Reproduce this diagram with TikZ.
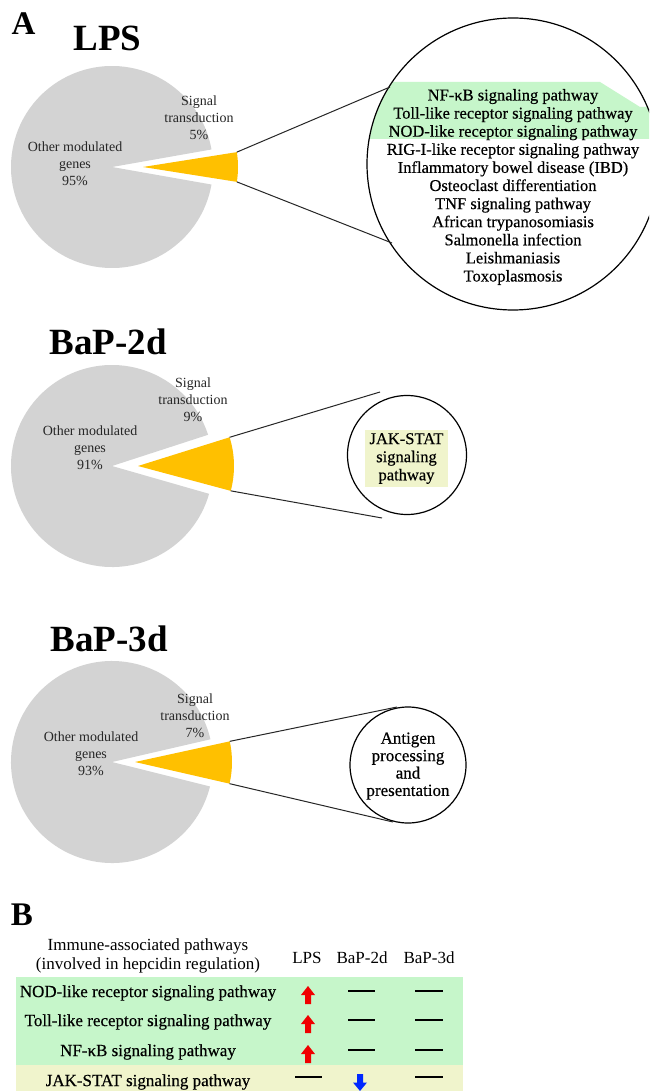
\documentclass[tikz,border=0pt]{standalone}
\usepackage{fontspec}
\setmainfont{Liberation Serif}
\newfontfamily\heavyserif[FakeBold=0.45]{Liberation Serif}
\usetikzlibrary{calc}
\definecolor{pieGrey}{RGB}{211,211,211}
\definecolor{pieOrange}{RGB}{255,192,0}
\definecolor{bandGreen}{RGB}{198,246,202}
\definecolor{bandYellow}{RGB}{240,244,204}
\definecolor{arrRed}{RGB}{240,0,0}
\definecolor{arrBlue}{RGB}{0,40,255}
\begin{document}
\begin{tikzpicture}[x=1pt,y=-1pt,
  panel/.style={font=\fontsize{33}{36}\selectfont\bfseries, inner sep=0},
  ptitle/.style={font=\fontsize{37}{40}\selectfont\bfseries, inner sep=0},
  pielabel/.style={font=\fontsize{14}{17}\selectfont, text=black!85, align=center, inner sep=0},
  listtext/.style={font=\heavyserif\fontsize{16.5}{18.1}\selectfont, align=center, inner sep=0},
  tabtext/.style={font=\heavyserif\fontsize{17}{19.5}\selectfont, align=center, inner sep=0},
  headtext/.style={font=\fontsize{17}{19.5}\selectfont, align=center, inner sep=0},
  zoomcircle/.style={draw=black, line width=1.2pt, circle, inner sep=0},
  connector/.style={draw=black!85, line width=1pt},
  nochange/.style={draw=black, line width=1.3pt},
  uparr/.pic={\fill[arrRed] (-3,9) -- (3,9) -- (3,0) -- (7,0) -- (0,-9) -- (-7,0) -- (-3,0) -- cycle;},
  downarr/.pic={\fill[arrBlue] (-3,-8.5) -- (3,-8.5) -- (3,0) -- (7,0) -- (0,8.5) -- (-7,0) -- (-3,0) -- cycle;}
]
\clip (0,0) rectangle (649,1091);
\fill[white] (0,0) rectangle (649,1091);

% ---------------- Panel A ----------------
\node[panel] (pA) at (23.5,24) {A};

% LPS
\node[ptitle] (t1) at (107.5,38.5) {LPS};
\fill[pieGrey] (112,167) -- +(10:101) arc[start angle=10, end angle=350, radius=101] -- cycle;
\fill[pieOrange] (143,167) -- +(-9:95) arc[start angle=-9, end angle=9, radius=95] -- cycle;
\coordinate (w1u) at ($(143,167)+(-9:95)$);
\coordinate (w1l) at ($(143,167)+(9:95)$);
\node[pielabel] (s1) at (199,118) {Signal\\transduction\\5\%};
\node[pielabel] (o1) at (75,164) {Other modulated\\genes\\95\%};
\begin{scope}
  \clip (513,164) circle[radius=145.5];
  \fill[bandGreen] (360,82) -- (600,82) -- (640,107) -- (660,107) -- (660,139) -- (360,139) -- cycle;
\end{scope}
\node[zoomcircle, minimum size=292] (c1) at (513,164) {};
\coordinate (c1u) at (390,87);
\coordinate (c1l) at (392,243);
\draw[connector] (w1u) -- (c1u);
\draw[connector] (w1l) -- (c1l);
\node[listtext] (list1) at (513,187) {NF-κB signaling pathway\\Toll-like receptor signaling pathway\\NOD-like receptor signaling pathway\\RIG-I-like receptor signaling pathway\\Inflammatory bowel disease (IBD)\\Osteoclast differentiation\\TNF signaling pathway\\African trypanosomiasis\\Salmonella infection\\Leishmaniasis\\Toxoplasmosis};

% BaP-2d
\node[ptitle] (t2) at (108,342) {BaP-2d};
\fill[pieGrey] (112,466) -- +(16:101) arc[start angle=16, end angle=342, radius=101] -- cycle;
\fill[pieOrange] (138,466) -- +(-17.4:96) arc[start angle=-17.4, end angle=15, radius=96] -- cycle;
\coordinate (w2u) at ($(138,466)+(-17.4:96)$);
\coordinate (w2l) at ($(138,466)+(15:96)$);
\node[pielabel] (s2) at (193,400) {Signal\\transduction\\9\%};
\node[pielabel] (o2) at (90,448) {Other modulated\\genes\\91\%};
\node[zoomcircle, minimum size=119] (c2) at (407,455) {};
\node[listtext, fill=bandYellow, minimum width=83, minimum height=57] (jak) at (406.5,458.5) {JAK-STAT\\signaling\\pathway};
\coordinate (c2u) at (380,392);
\coordinate (c2l) at (382,518);
\draw[connector] (w2u) -- (c2u);
\draw[connector] (w2l) -- (c2l);

% BaP-3d
\node[ptitle] (t3) at (109,639) {BaP-3d};
\fill[pieGrey] (112,762) -- +(14:101) arc[start angle=14, end angle=347, radius=101] -- cycle;
\fill[pieOrange] (135,762) -- +(-12.3:97) arc[start angle=-12.3, end angle=12.9, radius=97] -- cycle;
\coordinate (w3u) at ($(135,762)+(-12.3:97)$);
\coordinate (w3l) at ($(135,762)+(12.9:97)$);
\node[pielabel] (s3) at (195,716) {Signal\\transduction\\7\%};
\node[pielabel] (o3) at (91,754) {Other modulated\\genes\\93\%};
\node[zoomcircle, minimum size=116] (c3) at (408,765) {};
\node[listtext, font=\heavyserif\fontsize{17}{17.4}\selectfont] (ant) at (408,766) {Antigen\\processing\\and\\presentation};
\coordinate (c3u) at (397,707);
\coordinate (c3l) at (393,822);
\draw[connector] (w3u) -- (c3u);
\draw[connector] (w3l) -- (c3l);

% ---------------- Panel B ----------------
\node[panel] (pB) at (22,915) {B};
\fill[bandGreen] (16,977) rectangle (463,1065);
\fill[bandYellow] (16,1065) rectangle (463,1092);
\node[headtext, font=\fontsize{17}{19}\selectfont] (hd) at (148,956) {Immune-associated pathways\\(involved in hepcidin regulation)};
\node[headtext] (hLPS) at (307,958) {LPS};
\node[headtext] (h2d) at (362,958) {BaP-2d};
\node[headtext] (h3d) at (429,958) {BaP-3d};

\node[tabtext] (r1) at (148,993) {NOD-like receptor signaling pathway};
\node[tabtext] (r2) at (148,1022) {Toll-like receptor signaling pathway};
\node[tabtext] (r3) at (148,1052) {NF-κB signaling pathway};
\node[tabtext] (r4) at (148,1082) {JAK-STAT signaling pathway};

\pic at (308,995) {uparr};
\pic at (308,1024) {uparr};
\pic at (308,1054) {uparr};
\pic at (360,1082.5) {downarr};

\draw[nochange] (348,991) -- (375,991);
\draw[nochange] (415,991) -- (443,991);
\draw[nochange] (348,1020) -- (375,1020);
\draw[nochange] (415,1020) -- (443,1020);
\draw[nochange] (348,1050) -- (375,1050);
\draw[nochange] (415,1050) -- (443,1050);
\draw[nochange] (295,1077) -- (322,1077);
\draw[nochange] (415,1077) -- (443,1077);
\end{tikzpicture}
\end{document}
